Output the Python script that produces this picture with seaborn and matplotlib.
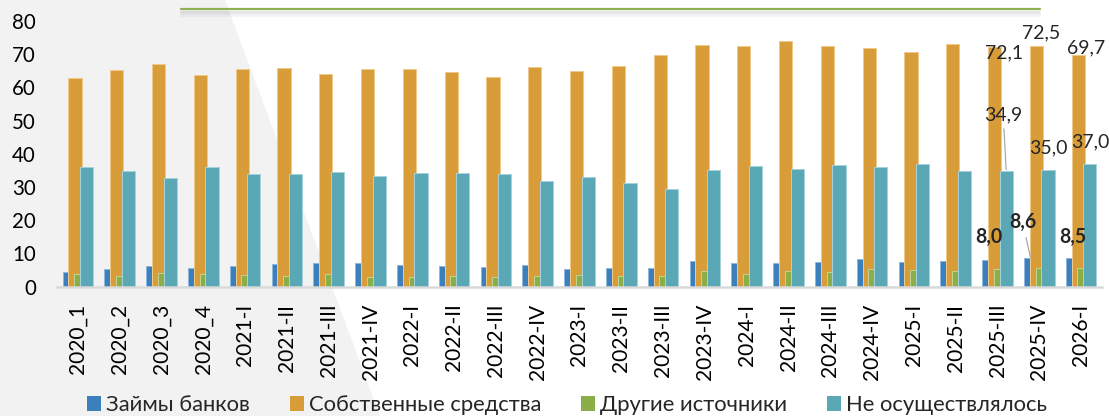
import numpy as np
import pandas as pd
import matplotlib
matplotlib.use('Agg')
import matplotlib.pyplot as plt
from matplotlib.patches import Patch, Polygon
from matplotlib.lines import Line2D
import seaborn as sns

# Quarters and shares of enterprises by investment funding source, %
quarters = ['2020_1', '2020_2', '2020_3', '2020_4', '2021-I', '2021-II', '2021-III', '2021-IV',
            '2022-I', '2022-II', '2022-III', '2022-IV', '2023-I', '2023-II', '2023-III', '2023-IV',
            '2024-I', '2024-II', '2024-III', '2024-IV', '2025-I', '2025-II', '2025-III', '2025-IV',
            '2026-I']
bank_loans = [4.4, 5.4, 6.3, 5.7, 6.3, 6.7, 7.2, 7.0, 6.5, 6.2, 6.0, 6.4, 5.4, 5.5, 5.6, 7.8,
              7.0, 7.2, 7.4, 8.3, 7.3, 7.7, 8.0, 8.6, 8.5]
own_funds = [62.8, 65.1, 67.0, 63.8, 65.6, 65.9, 64.1, 65.5, 65.5, 64.7, 63.1, 66.2, 64.8, 66.5,
             69.9, 72.8, 72.5, 73.9, 72.4, 71.8, 70.6, 73.2, 72.1, 72.5, 69.7]
other_sources = [3.9, 3.3, 4.0, 3.8, 3.6, 3.3, 3.8, 2.9, 2.9, 3.2, 2.9, 3.2, 3.5, 3.2, 3.2, 4.7,
                 3.8, 4.7, 4.5, 5.4, 5.1, 4.7, 5.4, 5.6, 5.7]
not_done = [36.0, 34.9, 32.7, 36.1, 33.9, 33.9, 34.4, 33.4, 34.2, 34.2, 34.0, 31.8, 33.1, 31.1,
            29.5, 35.1, 36.4, 35.4, 36.7, 36.1, 36.9, 34.9, 34.9, 35.0, 37.0]
series_names = ['Займы банков', 'Собственные средства', 'Другие источники', 'Не осуществлялось']

sns.set_style('white')
plt.rcParams['font.family'] = ['Lato', 'Open Sans', 'DejaVu Sans']

colors = ['#3b7fbd', '#d89c38', '#8cae48', '#5aa8b5']
edges = ['#8fb6dc', '#efc98a', '#bcd394', '#a5d2da']

fig = plt.figure(figsize=(1109 / 72, 416 / 72), dpi=72, facecolor='white')

# grey decorative background on the left
fig.patches.append(Polygon([(0, 1), (225 / 1109, 1), (380 / 1109, 0), (0, 0)],
                           closed=True, transform=fig.transFigure,
                           facecolor='#f2f2f2', edgecolor='none', zorder=-10))
# green line at the top with a soft shadow
for k, a in enumerate([0.10, 0.07, 0.04]):
    fig.add_artist(Line2D([181 / 1109, 1040 / 1109], [1 - (12 + 2 * k) / 416] * 2,
                          transform=fig.transFigure, color='black', alpha=a, lw=2))
fig.add_artist(Line2D([181 / 1109, 1040 / 1109], [1 - 9 / 416] * 2,
                      transform=fig.transFigure, color='#8db050', lw=2.2))

ax = fig.add_axes([57 / 1109, 1 - 286.7 / 416, (1102 - 57) / 1109, (286.7 - 21) / 416])
ax.patch.set_alpha(0)

idx = np.arange(len(quarters))
step, width = 0.139, 0.318
all_vals = [bank_loans, own_funds, other_sources, not_done]
for k, vals in enumerate(all_vals):
    df = pd.DataFrame({'x': idx + (k - 1.5) * step, 'y': vals})
    sns.barplot(data=df, x='x', y='y', native_scale=True, width=width, color=colors[k],
                edgecolor=edges[k], linewidth=1, saturation=1, errorbar=None, ax=ax)

ax.set_xlim(-0.5, len(quarters) - 0.5)
ax.set_ylim(0, 80)
ax.set_yticks(range(0, 81, 10))
ax.set_xticks(idx)
ax.set_xticklabels(quarters, rotation=90, ha='center', va='top')
ax.tick_params(axis='x', length=0, pad=17, labelsize=21, colors='black')
ax.tick_params(axis='y', length=0, pad=21, labelsize=20.5, colors='black')
ax.set_xlabel('')
ax.set_ylabel('')
for s in ['top', 'right', 'left']:
    ax.spines[s].set_visible(False)
ax.spines['bottom'].set_color('#d9d9d9')
ax.spines['bottom'].set_linewidth(2.5)

# data labels for the last three quarters (offsets in points)
label_offsets = {
    1: [(9, -6), (5, 13), (8, 7)],
    3: [(-3, 56), (0, 23), (0, 22)],
    0: [(0, 23), (-8, 36), (0, 22)],
}
leaders = {(3, 0), (0, 1)}
for k, offs in label_offsets.items():
    vals = all_vals[k]
    for j, (dx, dy) in enumerate(offs):
        i = len(quarters) - 3 + j
        xv = i + (k - 1.5) * step
        txt = f'{vals[i]:.1f}'.replace('.', ',')
        arrow = None
        if (k, j) in leaders:
            arrow = dict(arrowstyle='-', color='#a6a6a6', lw=1.2, shrinkA=3, shrinkB=1)
        ax.annotate(txt, xy=(xv, vals[i]), xytext=(dx, dy), textcoords='offset points',
                    ha='center', va='center', fontsize=19.5,
                    fontweight='bold' if k == 0 else 'normal',
                    arrowprops=arrow, annotation_clip=False, zorder=5)

handles = [Patch(facecolor=c, edgecolor='none') for c in colors]
fig.legend(handles, series_names, loc='center', bbox_to_anchor=(567 / 1109, 1 - 405 / 416),
           ncol=4, frameon=False, fontsize=22, handlelength=0.64, handleheight=0.64,
           handletextpad=0.23, columnspacing=1.8, borderpad=0)

fig.savefig('out.png', dpi=72)
